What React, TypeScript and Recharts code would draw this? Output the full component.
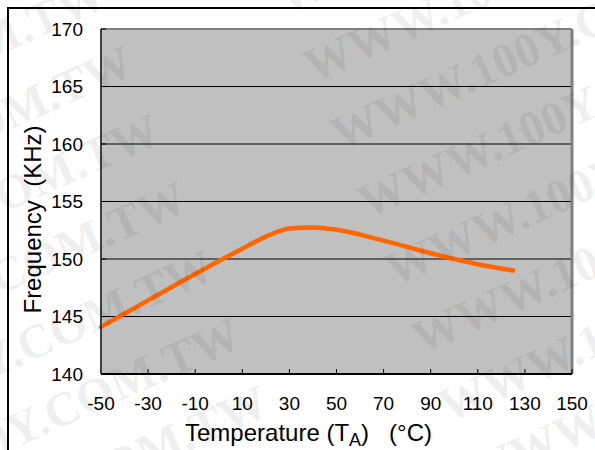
import React from 'react';
import {
  LineChart,
  Line,
  XAxis,
  YAxis,
  CartesianGrid,
  ReferenceLine,
  Label,
} from 'recharts';

const temperatures = [-50, -30, -10, 10, 20, 30, 40, 50, 70, 90, 100, 110, 125];
const frequencies = [144.1, 146.4, 148.7, 150.9, 151.95, 152.65, 152.75, 152.55, 151.6, 150.5, 150.0, 149.55, 149.0];
const xTicks = [-50, -30, -10, 10, 30, 50, 70, 90, 110, 130, 150];
const yTicks = [140, 145, 150, 155, 160, 165, 170];
const watermarkText = 'WWW.100Y.COM.TW';

const data = temperatures.map((t, i) => ({ t, f: frequencies[i] }));

const FONT = '"Liberation Sans", Arial, sans-serif';
const SERIF = '"Liberation Serif", "Times New Roman", serif';

const YTitle = (props: any) => {
  const vb = props.viewBox || { x: 0, y: 0, width: 0, height: 0 };
  const cx = vb.x + 32;
  const cy = vb.y + vb.height / 2 + 18;
  return (
    <text
      x={cx}
      y={cy}
      transform={`rotate(-90, ${cx}, ${cy})`}
      textAnchor="middle"
      dominantBaseline="central"
      fontFamily={FONT}
      fontSize={24}
      fill="#000"
    >
      {'Frequency\u00A0\u00A0(KHz)'}
    </text>
  );
};

const XTitle = (props: any) => {
  const vb = props.viewBox || { x: 0, y: 0, width: 0, height: 0 };
  const cx = vb.x + vb.width / 2 - 28;
  const cy = vb.y + 67;
  return (
    <text x={cx} y={cy} textAnchor="middle" fontFamily={FONT} fontSize={24} fill="#000">
      <tspan>Temperature (T</tspan>
      <tspan fontSize={18} dy={5}>A</tspan>
      <tspan dy={-5}>{')\u00A0\u00A0\u00A0(°C)'}</tspan>
    </text>
  );
};

function Watermarks() {
  const rows = [-3, -2, -1, 0, 1, 2, 3, 4, 5, 6];
  return (
    <svg
      width={595}
      height={450}
      style={{ position: 'absolute', left: 0, top: 0, pointerEvents: 'none' }}
    >
      {rows.map((k) => {
        const bx = 313 + 27 * k;
        const by = 83 + 68 * k;
        const ax = 109 + 27 * k;
        const ay = 6 + 68 * k;
        return (
          <g key={k}>
            <text
              x={bx}
              y={by}
              transform={`rotate(-24, ${bx}, ${by})`}
              fontFamily={SERIF}
              fontWeight="bold"
              fontSize={48}
              fill="#000"
              fillOpacity={0.085}
            >
              {watermarkText}
            </text>
            <text
              x={ax}
              y={ay}
              transform={`rotate(-24, ${ax}, ${ay})`}
              textAnchor="end"
              fontFamily={SERIF}
              fontWeight="bold"
              fontSize={48}
              fill="#000"
              fillOpacity={0.085}
            >
              {watermarkText}
            </text>
          </g>
        );
      })}
    </svg>
  );
}

export default function App() {
  return (
    <div
      style={{
        position: 'fixed',
        left: 0,
        top: 0,
        width: 595,
        height: 450,
        overflow: 'hidden',
        background: '#fff',
      }}
    >
      <div
        style={{
          position: 'absolute',
          left: 7,
          top: 7,
          width: 620,
          height: 470,
          borderTop: '2px solid #000',
          borderLeft: '2px solid #000',
        }}
      />
      <div style={{ position: 'absolute', left: 0, top: 0 }}>
        <LineChart
          width={595}
          height={450}
          data={data}
          margin={{ top: 29, right: 23, bottom: 0, left: 0 }}
        >
          <CartesianGrid
            vertical={false}
            stroke="#000"
            strokeWidth={1}
            fill="#C0C0C0"
            fillOpacity={1}
          />
          <ReferenceLine y={170} stroke="#808080" strokeWidth={2} />
          <ReferenceLine x={150} stroke="#808080" strokeWidth={3} />
          <XAxis
            dataKey="t"
            type="number"
            domain={[-50, 150]}
            ticks={xTicks}
            interval={0}
            height={76}
            tickSize={-5}
            tickMargin={28}
            axisLine={{ stroke: '#000', strokeWidth: 2 }}
            tickLine={{ stroke: '#000', strokeWidth: 1 }}
            tick={{ fill: '#000', fontSize: 19, fontFamily: FONT }}
          >
            <Label content={<XTitle />} />
          </XAxis>
          <YAxis
            type="number"
            domain={[140, 170]}
            ticks={yTicks}
            interval={0}
            width={101}
            tickSize={-5}
            tickMargin={23}
            axisLine={{ stroke: '#404040', strokeWidth: 2 }}
            tickLine={{ stroke: '#000', strokeWidth: 1 }}
            tick={{ fill: '#000', fontSize: 19, fontFamily: FONT }}
          >
            <Label content={<YTitle />} />
          </YAxis>
          <Line
            dataKey="f"
            type="monotone"
            stroke="#FF6600"
            strokeWidth={4.5}
            strokeLinecap="round"
            dot={false}
            isAnimationActive={false}
          />
        </LineChart>
      </div>
      <Watermarks />
    </div>
  );
}
